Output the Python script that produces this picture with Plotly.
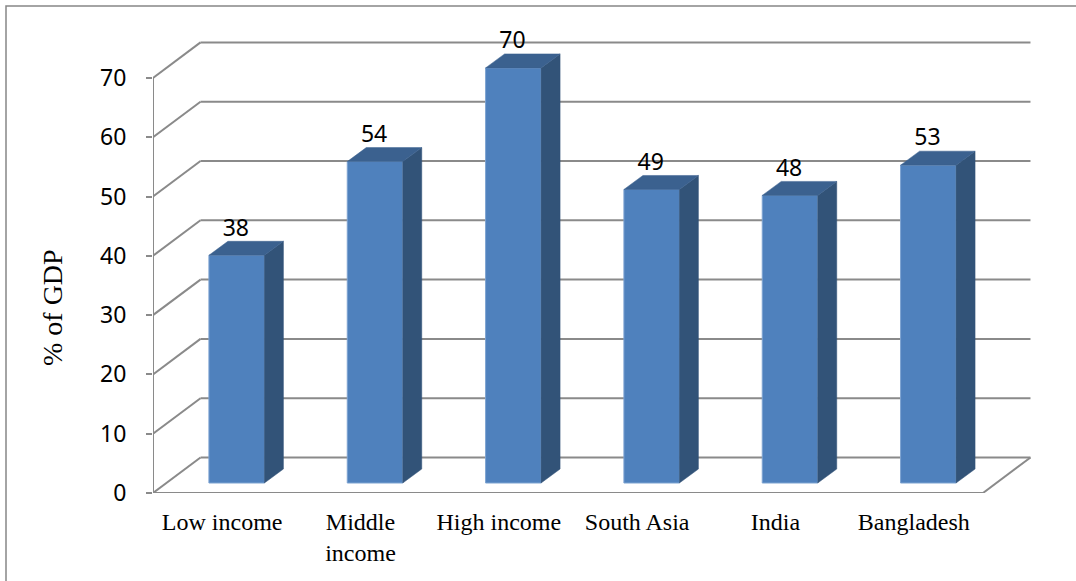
import plotly.graph_objects as go

categories = ["Low income", "Middle<br>income", "High income", "South Asia", "India", "Bangladesh"]
values = [38.4, 54.2, 70.0, 49.5, 48.5, 53.6]
value_labels = ["38", "54", "70", "49", "48", "53"]
y_ticks = [0, 10, 20, 30, 40, 50, 60, 70]

# projection of the oblique 3D look, in axis units
PX_X = 138.33
PX_Y = 5.93
WALL_DX = 47.5 / PX_X
WALL_DY = 35.5 / PX_Y
BAR_SHIFT_X = 14.5 / PX_X
BAR_SHIFT_Y = 10.0 / PX_Y
BAR_W = 55.5 / PX_X
BAR_DX = 19.0 / PX_X
BAR_DY = 14.0 / PX_Y

GRID = "#8a8a8a"
FRONT = "#4f81bd"
SIDE = "#325378"
TOP = "#3b618f"
n = len(categories)

fig = go.Figure()
centers = [i + 0.5 + BAR_SHIFT_X for i in range(n)]

fig.add_trace(go.Bar(
    x=centers, y=values, base=BAR_SHIFT_Y, width=BAR_W,
    marker=dict(color=FRONT, line=dict(color="#7da3d1", width=1)),
    hoverinfo="skip", showlegend=False,
))

for c, v in zip(centers, values):
    l, r = c - BAR_W / 2, c + BAR_W / 2
    b, t = BAR_SHIFT_Y, BAR_SHIFT_Y + v
    fig.add_trace(go.Scatter(
        x=[r, r + BAR_DX, r + BAR_DX, r, r], y=[b, b + BAR_DY, t + BAR_DY, t, b],
        mode="lines", fill="toself", fillcolor=SIDE, line=dict(color=SIDE, width=0.5),
        hoverinfo="skip", showlegend=False,
    ))
    fig.add_trace(go.Scatter(
        x=[l, r, r + BAR_DX, l + BAR_DX, l], y=[t, t, t + BAR_DY, t + BAR_DY, t],
        mode="lines", fill="toself", fillcolor=TOP, line=dict(color=TOP, width=0.5),
        hoverinfo="skip", showlegend=False,
    ))

fig.add_trace(go.Scatter(
    x=[c + BAR_DX / 2 - 0.075 for c in centers],
    y=[BAR_SHIFT_Y + v + BAR_DY for v in values],
    mode="text", text=value_labels, textposition="top center",
    textfont=dict(family="Noto Sans", size=23, color="#000000"),
    hoverinfo="skip", showlegend=False, cliponaxis=False,
))

line = dict(color=GRID, width=2)
shapes = []
for v in y_ticks:
    shapes.append(dict(type="line", xref="x", yref="y", layer="below", line=line,
                       x0=0, y0=v, x1=WALL_DX, y1=v + WALL_DY))
    shapes.append(dict(type="line", xref="x", yref="y", layer="below", line=line,
                       x0=WALL_DX, y0=v + WALL_DY, x1=n + WALL_DX, y1=v + WALL_DY))
shapes.append(dict(type="line", xref="x", yref="y", layer="below", line=line,
                   x0=0, y0=0, x1=0, y1=max(y_ticks)))
shapes.append(dict(type="line", xref="x", yref="y", layer="below", line=line,
                   x0=0, y0=0, x1=n, y1=0))
shapes.append(dict(type="line", xref="x", yref="y", layer="below", line=line,
                   x0=n, y0=0, x1=n + WALL_DX, y1=WALL_DY))

# outer chart frame (top and left edges are visible in the page)
W, H = 1076, 581
L, T, PW, PH = 153, 30, 887, 463
shapes.append(dict(type="rect", xref="paper", yref="paper", layer="below",
                   x0=(6 - L) / PW, x1=(W + 20 - L) / PW,
                   y0=1 - (H + 20 - T) / PH, y1=1 - (6 - T) / PH,
                   line=dict(color="#868686", width=1.5)))

fig.update_layout(
    width=W, height=H,
    margin=dict(l=L, r=W - L - PW, t=T, b=H - T - PH, autoexpand=False),
    paper_bgcolor="#ffffff", plot_bgcolor="rgba(0,0,0,0)",
    showlegend=False, shapes=shapes,
    annotations=[dict(text="% of GDP", textangle=-90, showarrow=False,
                      xref="paper", yref="paper", xanchor="center", yanchor="middle",
                      x=(52 - L) / PW, y=1 - (308 - T) / PH,
                      font=dict(family="Liberation Serif", size=28, color="#000000"))],
    xaxis=dict(
        range=[0, PW / PX_X], tickmode="array",
        tickvals=[i + 0.5 for i in range(n)], ticktext=categories,
        showgrid=False, zeroline=False, showline=False, ticks="",
        tickangle=0, ticklabelstandoff=12,
        tickfont=dict(family="Liberation Serif", size=24, color="#000000"),
    ),
    yaxis=dict(
        range=[0, PH / PX_Y], tickmode="array", tickvals=y_ticks,
        showgrid=False, zeroline=False, showline=False,
        ticks="outside", ticklen=6, tickwidth=2, tickcolor=GRID,
        ticklabelstandoff=15,
        tickfont=dict(family="Noto Sans", size=23, color="#000000"),
    ),
)

fig.write_html("out.html", config={"displayModeBar": False},
               post_script="document.body.style.margin='0';document.body.style.overflow='hidden';")
